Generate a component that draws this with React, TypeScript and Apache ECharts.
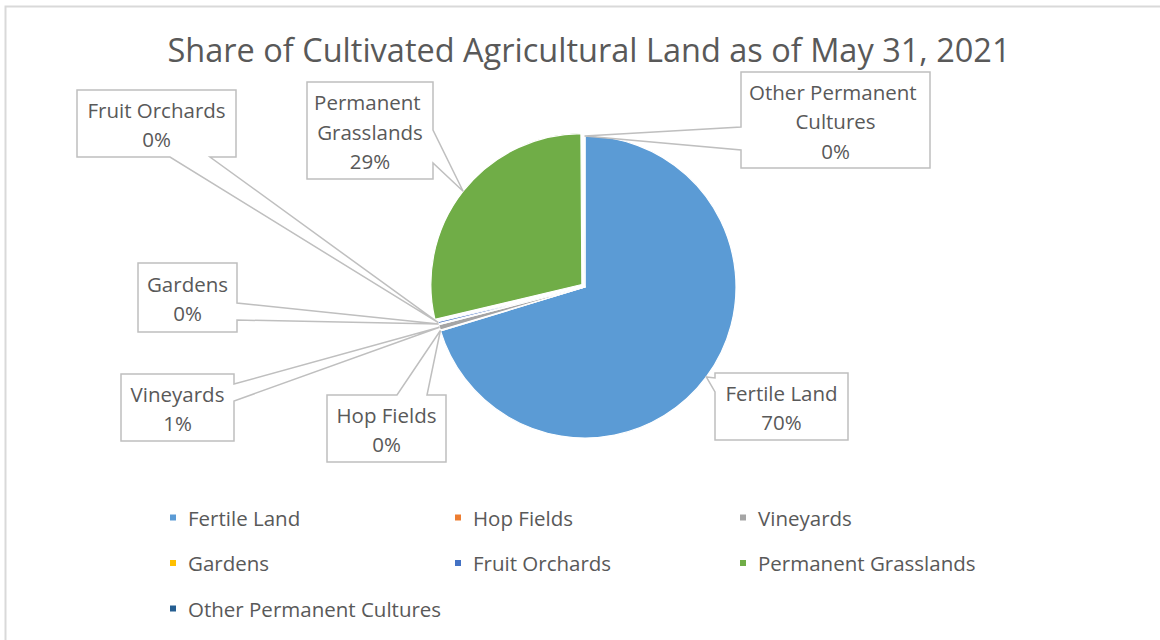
import React, { useEffect, useRef } from "react";
import * as echarts from "echarts";

// ---- data ----
const categories = [
  "Fertile Land",
  "Hop Fields",
  "Vineyards",
  "Gardens",
  "Fruit Orchards",
  "Permanent Grasslands",
  "Other Permanent Cultures",
];
const shares = [70.3, 0.1, 0.6, 0.1, 0.2, 28.6, 0.1];
const colors = ["#5b9bd5", "#ed7d31", "#a5a5a5", "#ffc000", "#4472c4", "#70ad47", "#255e91"];
const explodedSlices = ["Permanent Grasslands"];
const titleText = "Share of Cultivated Agricultural Land as of May 31, 2021";
const legendColumns = [
  ["Fertile Land", "Gardens", "Other Permanent Cultures"],
  ["Hop Fields", "Fruit Orchards"],
  ["Vineyards", "Permanent Grasslands"],
];

// ---- layout (positions / styles only) ----
const FONT = "'Open Sans', 'Noto Sans', sans-serif";
const TEXT_COLOR = "#595959";
const PIE_CENTER = [585, 287];
const PIE_RADIUS = 151;
const EXPLODE = 4;
type Side = "left" | "right" | "top" | "bottom";
const calloutLayout: { box: number[]; side: Side; base: number[] }[] = [
  { box: [715, 373, 848, 440], side: "left", base: [378, 392] },
  { box: [327, 395, 446, 462], side: "top", base: [397, 427] },
  { box: [121, 374, 234, 441], side: "right", base: [384, 401] },
  { box: [138, 263, 237, 332], side: "right", base: [303, 320] },
  { box: [77, 90, 236, 157], side: "bottom", base: [170, 210] },
  { box: [307, 82, 433, 179], side: "right", base: [130, 163] },
  { box: [741, 72, 930, 168], side: "left", base: [127, 150] },
];
const legendLeft = [168, 453, 738];
const legendTop = 507;

function calloutPoints(box: number[], side: Side, base: number[], tip: number[]) {
  const [x0, y0, x1, y1] = box;
  const [a, b] = base;
  switch (side) {
    case "top":
      return [[x0, y0], [a, y0], tip, [b, y0], [x1, y0], [x1, y1], [x0, y1]];
    case "right":
      return [[x0, y0], [x1, y0], [x1, a], tip, [x1, b], [x1, y1], [x0, y1]];
    case "bottom":
      return [[x0, y0], [x1, y0], [x1, y1], [b, y1], tip, [a, y1], [x0, y1]];
    default:
      return [[x0, y0], [x1, y0], [x1, y1], [x0, y1], [x0, b], tip, [x0, a]];
  }
}

export default function App() {
  const ref = useRef<HTMLDivElement>(null);

  useEffect(() => {
    if (!ref.current) return;
    const chart = echarts.init(ref.current, undefined, { renderer: "svg" });
    const total = shares.reduce((s, v) => s + v, 0);

    // callouts derived from data (slice mid angles) and fixed box layout
    const graphics: any[] = [
      {
        type: "rect",
        z: 0,
        shape: { x: 5.5, y: 6.5, width: 1300, height: 800 },
        style: { fill: "none", stroke: "#d9d9d9", lineWidth: 2 },
        silent: true,
      },
    ];
    let cum = 0;
    categories.forEach((name, i) => {
      const v = shares[i];
      const theta = ((cum + v / 2) / total) * 2 * Math.PI;
      cum += v;
      const r = PIE_RADIUS + (explodedSlices.includes(name) ? EXPLODE : 0);
      const tip = [PIE_CENTER[0] + r * Math.sin(theta), PIE_CENTER[1] - r * Math.cos(theta)];
      const L = calloutLayout[i];
      const [x0, y0, x1, y1] = L.box;
      graphics.push({
        type: "polygon",
        z: 100,
        shape: { points: calloutPoints(L.box, L.side, L.base, tip) },
        style: { fill: "#ffffff", stroke: "#bfbfbf", lineWidth: 1.5 },
        silent: true,
      });
      const pct = Math.round((v / total) * 100);
      graphics.push({
        type: "text",
        z: 101,
        x: (x0 + x1) / 2,
        y: (y0 + y1) / 2 + 1,
        style: {
          text: `${name}\n${pct}%`,
          width: x1 - x0 - 6,
          overflow: "break",
          align: "center",
          verticalAlign: "middle",
          fontFamily: FONT,
          fontSize: 20.5,
          lineHeight: 29.5,
          fill: TEXT_COLOR,
        },
        silent: true,
      });
    });

    const legends = legendColumns.map((col, ci) => ({
      show: true,
      orient: "vertical",
      left: legendLeft[ci],
      top: legendTop,
      data: col,
      itemWidth: 8,
      itemHeight: 8,
      itemGap: 24.5,
      icon: "rect",
      selectedMode: false,
      padding: 0,
      textStyle: {
        color: TEXT_COLOR,
        fontFamily: FONT,
        fontSize: 20.5,
        lineHeight: 20,
        padding: [0, 0, 0, 6],
      },
    }));

    chart.setOption({
      animation: false,
      backgroundColor: "#ffffff",
      color: colors,
      title: {
        text: titleText,
        left: 584,
        top: 28,
        textAlign: "center",
        textStyle: {
          color: TEXT_COLOR,
          fontFamily: FONT,
          fontSize: 32.5,
          fontWeight: "normal",
        },
      },
      legend: legends,
      graphic: graphics,
      series: [
        {
          type: "pie",
          center: PIE_CENTER,
          radius: PIE_RADIUS,
          startAngle: 90,
          clockwise: true,
          selectedMode: "multiple",
          selectedOffset: EXPLODE,
          avoidLabelOverlap: false,
          label: { show: false },
          labelLine: { show: false },
          emphasis: { disabled: true },
          itemStyle: { borderColor: "#ffffff", borderWidth: 1.2 },
          data: categories.map((name, i) => ({
            name,
            value: shares[i],
            selected: explodedSlices.includes(name),
          })),
        },
      ],
    });
    return () => chart.dispose();
  }, []);

  return (
    <div
      ref={ref}
      style={{ position: "fixed", left: 0, top: 0, width: 1160, height: 640, background: "#fff" }}
    />
  );
}
